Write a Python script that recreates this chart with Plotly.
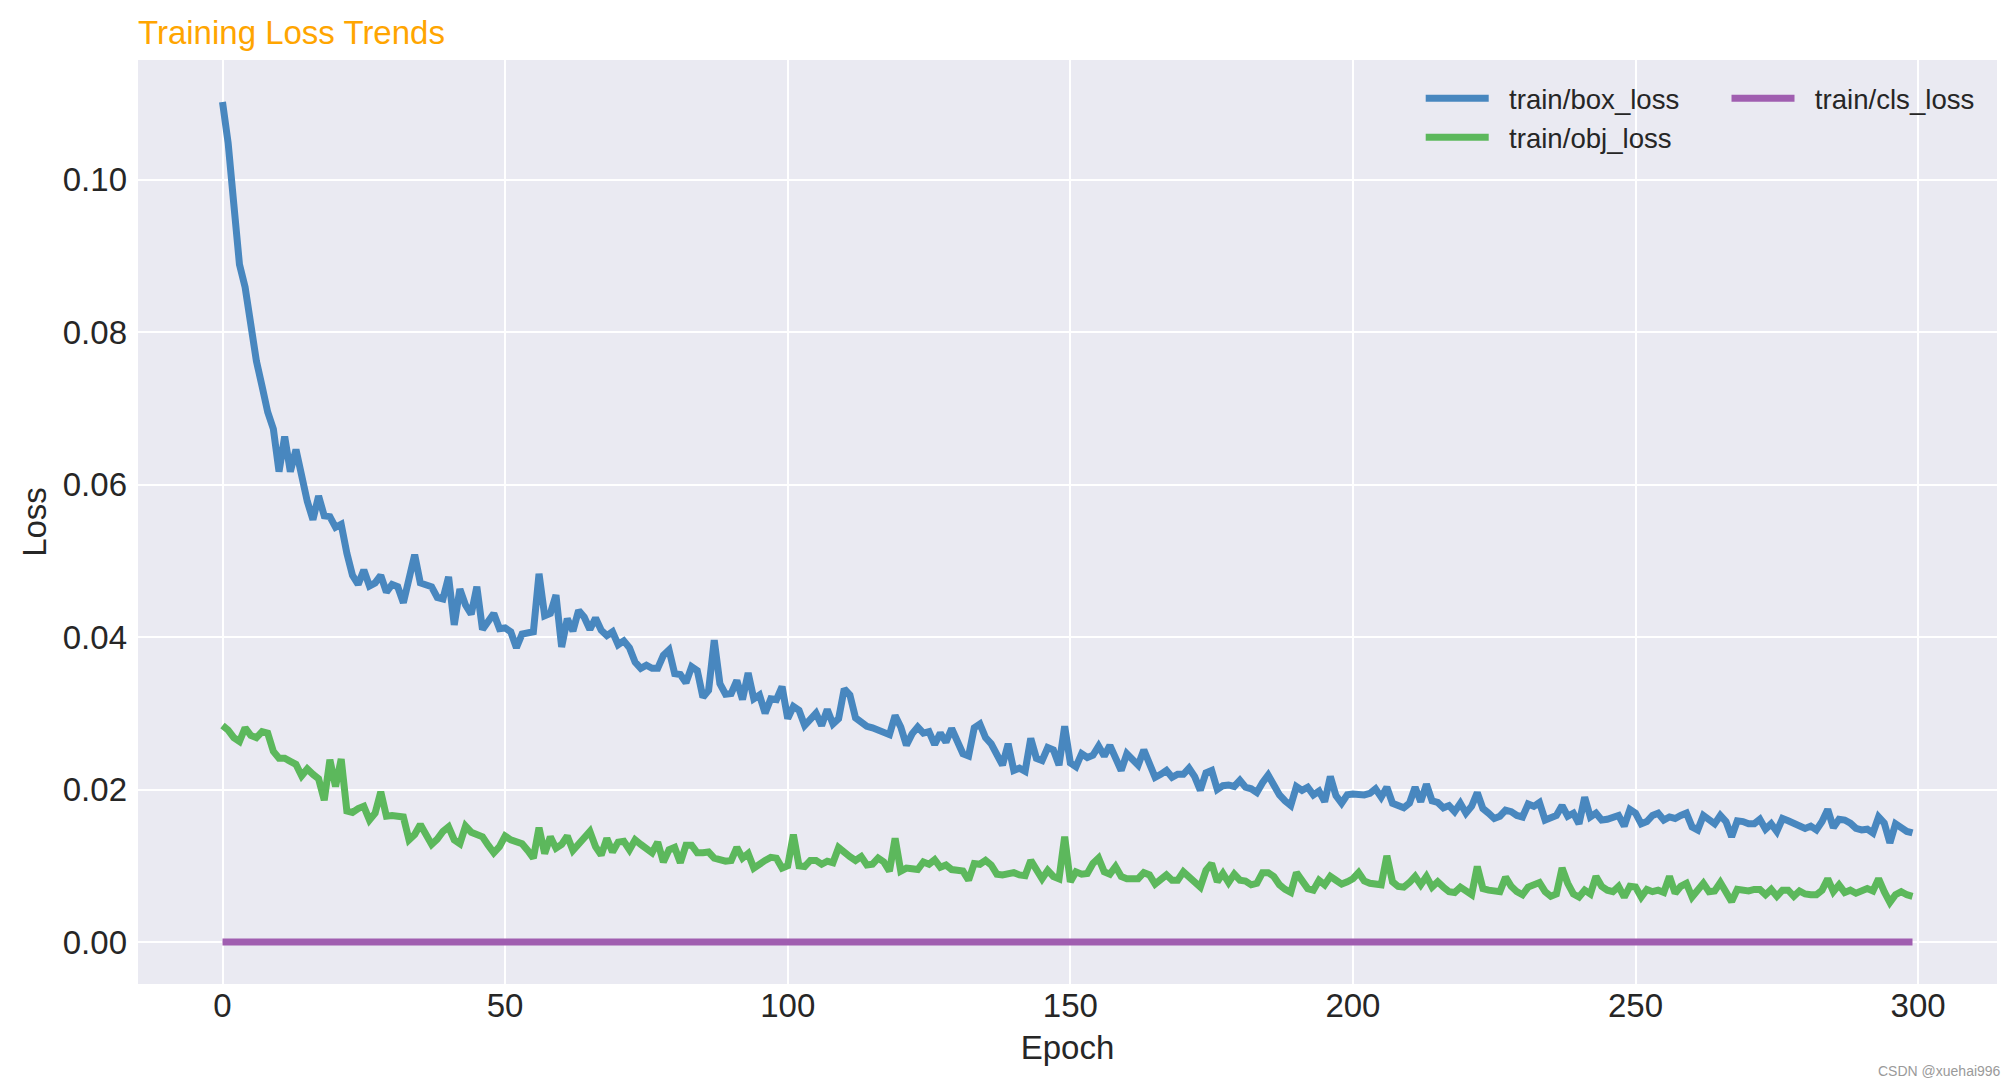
import plotly.graph_objects as go

epochs = list(range(300))

box_loss = [
    0.1102, 0.1048, 0.0968, 0.0889, 0.0859, 0.0811, 0.0762, 0.0729, 0.0695, 0.0673,
    0.0617, 0.0663, 0.0617, 0.0646, 0.0607, 0.0578, 0.0554, 0.0585, 0.0559, 0.0558,
    0.0544, 0.0548, 0.0510, 0.0481, 0.0469, 0.0488, 0.0467, 0.0471, 0.0481, 0.0459,
    0.0469, 0.0466, 0.0445, 0.0481, 0.0508, 0.0471, 0.0469, 0.0466, 0.0452, 0.0450,
    0.0479, 0.0416, 0.0463, 0.0442, 0.0430, 0.0466, 0.0410, 0.0421, 0.0431, 0.0411,
    0.0412, 0.0407, 0.0386, 0.0404, 0.0405, 0.0407, 0.0483, 0.0428, 0.0431, 0.0455,
    0.0387, 0.0424, 0.0408, 0.0435, 0.0426, 0.0410, 0.0425, 0.0409, 0.0402, 0.0407,
    0.0390, 0.0395, 0.0386, 0.0367, 0.0359, 0.0363, 0.0359, 0.0359, 0.0376, 0.0383,
    0.0352, 0.0351, 0.0340, 0.0361, 0.0356, 0.0321, 0.0330, 0.0396, 0.0339, 0.0325,
    0.0326, 0.0343, 0.0318, 0.0353, 0.0319, 0.0324, 0.0300, 0.0319, 0.0318, 0.0335,
    0.0293, 0.0309, 0.0304, 0.0284, 0.0292, 0.0300, 0.0284, 0.0305, 0.0286, 0.0293,
    0.0332, 0.0324, 0.0294, 0.0287, 0.0283, 0.0281, 0.0278, 0.0276, 0.0272, 0.0297,
    0.0282, 0.0258, 0.0273, 0.0282, 0.0274, 0.0276, 0.0259, 0.0274, 0.0262, 0.0280,
    0.0265, 0.0247, 0.0244, 0.0281, 0.0286, 0.0268, 0.0260, 0.0248, 0.0232, 0.0260,
    0.0225, 0.0228, 0.0224, 0.0267, 0.0241, 0.0238, 0.0255, 0.0252, 0.0232, 0.0283,
    0.0235, 0.0230, 0.0247, 0.0242, 0.0245, 0.0257, 0.0244, 0.0258, 0.0243, 0.0225,
    0.0247, 0.0238, 0.0232, 0.0252, 0.0234, 0.0216, 0.0220, 0.0225, 0.0216, 0.0220,
    0.0220, 0.0228, 0.0217, 0.0199, 0.0222, 0.0225, 0.0200, 0.0205, 0.0206, 0.0204,
    0.0212, 0.0203, 0.0201, 0.0196, 0.0209, 0.0219, 0.0206, 0.0193, 0.0185, 0.0179,
    0.0204, 0.0199, 0.0203, 0.0193, 0.0198, 0.0184, 0.0217, 0.0192, 0.0182, 0.0193,
    0.0194, 0.0193, 0.0193, 0.0195, 0.0201, 0.0190, 0.0203, 0.0182, 0.0178, 0.0176,
    0.0182, 0.0203, 0.0184, 0.0207, 0.0185, 0.0183, 0.0176, 0.0179, 0.0171, 0.0182,
    0.0169, 0.0178, 0.0196, 0.0175, 0.0169, 0.0162, 0.0165, 0.0173, 0.0171, 0.0166,
    0.0164, 0.0181, 0.0178, 0.0183, 0.0160, 0.0164, 0.0166, 0.0179, 0.0165, 0.0169,
    0.0155, 0.0190, 0.0164, 0.0169, 0.0160, 0.0161, 0.0163, 0.0166, 0.0152, 0.0174,
    0.0169, 0.0155, 0.0158, 0.0166, 0.0169, 0.0160, 0.0164, 0.0162, 0.0166, 0.0169,
    0.0151, 0.0147, 0.0166, 0.0159, 0.0155, 0.0166, 0.0158, 0.0138, 0.0159, 0.0158,
    0.0155, 0.0155, 0.0161, 0.0148, 0.0155, 0.0145, 0.0162, 0.0159, 0.0155, 0.0152,
    0.0149, 0.0152, 0.0147, 0.0158, 0.0174, 0.0150, 0.0161, 0.0160, 0.0156, 0.0149,
    0.0147, 0.0148, 0.0143, 0.0164, 0.0156, 0.0130, 0.0155, 0.0150, 0.0145, 0.0143,
]

obj_loss = [
    0.0284, 0.0278, 0.0268, 0.0263, 0.0281, 0.0271, 0.0268, 0.0276, 0.0274, 0.0250,
    0.0241, 0.0241, 0.0237, 0.0233, 0.0218, 0.0227, 0.0220, 0.0214, 0.0186, 0.0239,
    0.0204, 0.0240, 0.0172, 0.0170, 0.0175, 0.0178, 0.0160, 0.0169, 0.0197, 0.0165,
    0.0166, 0.0165, 0.0164, 0.0134, 0.0141, 0.0154, 0.0140, 0.0128, 0.0135, 0.0145,
    0.0151, 0.0134, 0.0129, 0.0152, 0.0144, 0.0141, 0.0138, 0.0127, 0.0117, 0.0125,
    0.0139, 0.0134, 0.0131, 0.0129, 0.0120, 0.0110, 0.0150, 0.0116, 0.0138, 0.0123,
    0.0128, 0.0139, 0.0120, 0.0129, 0.0139, 0.0145, 0.0125, 0.0114, 0.0136, 0.0118,
    0.0131, 0.0132, 0.0121, 0.0134, 0.0128, 0.0123, 0.0117, 0.0131, 0.0105, 0.0121,
    0.0124, 0.0104, 0.0127, 0.0127, 0.0117, 0.0117, 0.0118, 0.0110, 0.0108, 0.0106,
    0.0107, 0.0124, 0.0110, 0.0116, 0.0097, 0.0103, 0.0107, 0.0111, 0.0110, 0.0097,
    0.0100, 0.0141, 0.0100, 0.0099, 0.0107, 0.0107, 0.0102, 0.0106, 0.0104, 0.0124,
    0.0117, 0.0112, 0.0107, 0.0112, 0.0101, 0.0102, 0.0110, 0.0105, 0.0093, 0.0136,
    0.0093, 0.0097, 0.0096, 0.0095, 0.0105, 0.0102, 0.0108, 0.0098, 0.0101, 0.0095,
    0.0094, 0.0093, 0.0081, 0.0103, 0.0102, 0.0107, 0.0101, 0.0089, 0.0088, 0.0089,
    0.0091, 0.0088, 0.0087, 0.0107, 0.0094, 0.0083, 0.0094, 0.0086, 0.0083, 0.0138,
    0.0079, 0.0092, 0.0089, 0.0090, 0.0103, 0.0110, 0.0092, 0.0089, 0.0099, 0.0086,
    0.0083, 0.0083, 0.0083, 0.0091, 0.0088, 0.0076, 0.0083, 0.0088, 0.0081, 0.0081,
    0.0092, 0.0085, 0.0079, 0.0072, 0.0094, 0.0103, 0.0079, 0.0090, 0.0078, 0.0089,
    0.0081, 0.0080, 0.0075, 0.0077, 0.0091, 0.0091, 0.0086, 0.0075, 0.0069, 0.0065,
    0.0091, 0.0079, 0.0070, 0.0068, 0.0081, 0.0075, 0.0086, 0.0081, 0.0076, 0.0079,
    0.0083, 0.0091, 0.0080, 0.0077, 0.0076, 0.0075, 0.0113, 0.0079, 0.0073, 0.0072,
    0.0078, 0.0086, 0.0075, 0.0086, 0.0072, 0.0079, 0.0072, 0.0066, 0.0065, 0.0072,
    0.0067, 0.0062, 0.0099, 0.0070, 0.0068, 0.0068, 0.0066, 0.0085, 0.0073, 0.0066,
    0.0062, 0.0072, 0.0076, 0.0078, 0.0066, 0.0060, 0.0063, 0.0097, 0.0077, 0.0063,
    0.0059, 0.0068, 0.0063, 0.0086, 0.0073, 0.0068, 0.0066, 0.0073, 0.0059, 0.0073,
    0.0072, 0.0059, 0.0069, 0.0066, 0.0068, 0.0065, 0.0086, 0.0064, 0.0073, 0.0077,
    0.0059, 0.0068, 0.0077, 0.0066, 0.0067, 0.0078, 0.0065, 0.0053, 0.0069, 0.0068,
    0.0067, 0.0069, 0.0069, 0.0062, 0.0069, 0.0060, 0.0068, 0.0068, 0.0060, 0.0067,
    0.0063, 0.0062, 0.0062, 0.0068, 0.0083, 0.0066, 0.0075, 0.0065, 0.0068, 0.0064,
    0.0066, 0.0070, 0.0067, 0.0083, 0.0066, 0.0052, 0.0062, 0.0066, 0.0062, 0.0060,
]

cls_loss = [0.0] * 300

series_names = ["train/box_loss", "train/obj_loss", "train/cls_loss"]
series_colors = ["#4887BF", "#5CB85C", "#A05EB0"]

x_ticks = [0, 50, 100, 150, 200, 250, 300]
y_ticks = [0.00, 0.02, 0.04, 0.06, 0.08, 0.10]

FONT = "Liberation Sans, Arial, sans-serif"
TXT = "#262626"
NB = "\u00a0\u00a0"

fig = go.Figure()
for name, vals, col, lg in zip(series_names, [box_loss, obj_loss, cls_loss],
                               series_colors, ["legend", "legend", "legend2"]):
    fig.add_trace(go.Scatter(x=epochs, y=vals, mode="lines", name=NB + name,
                             line=dict(color=col, width=7), legend=lg))

leg_common = dict(bgcolor="rgba(0,0,0,0)", font=dict(family=FONT, size=27.6, color=TXT),
                  itemwidth=63, yanchor="top", xanchor="left", tracegroupgap=0)

fig.update_layout(
    width=2016, height=1087,
    margin=dict(l=138, r=19, t=60, b=103),
    paper_bgcolor="white", plot_bgcolor="#EAEAF2",
    font=dict(family=FONT, size=33, color=TXT),
    title=dict(text="Training Loss Trends", font=dict(family=FONT, size=33, color="#FFA500"),
               x=138/2016, xanchor="left", xref="container",
               y=1 - 32/1087, yanchor="middle", yref="container"),
    legend=dict(x=0.690, y=0.985, **leg_common),
    legend2=dict(x=0.8545, y=0.985, **leg_common),
    showlegend=True,
)

fig.update_xaxes(range=[-14.95, 313.95], tickvals=x_ticks, ticktext=[str(v) for v in x_ticks],
                 showgrid=True, gridcolor="white", gridwidth=1.5, zeroline=False,
                 ticks="", ticklabelstandoff=-1,
                 tickfont=dict(size=33, color=TXT), showline=False,
                 title=dict(text="Epoch", font=dict(size=33, color=TXT), standoff=12))
fig.update_yaxes(range=[-0.00551, 0.1157], tickvals=y_ticks, ticktext=[f"{v:.2f}" for v in y_ticks],
                 showgrid=True, gridcolor="white", gridwidth=1.5, zeroline=False,
                 ticks="", ticklabelstandoff=10,
                 tickfont=dict(size=33, color=TXT), showline=False,
                 title=dict(text="Loss", font=dict(size=33, color=TXT), standoff=6))

fig.add_annotation(text="CSDN @xuehai996", xref="paper", yref="paper",
                   x=1.0, y=0, xanchor="right", yanchor="top",
                   xshift=6, yshift=-77, showarrow=False,
                   font=dict(family=FONT, size=14, color="#9a9a9a"))

fig.write_html("out.html")
